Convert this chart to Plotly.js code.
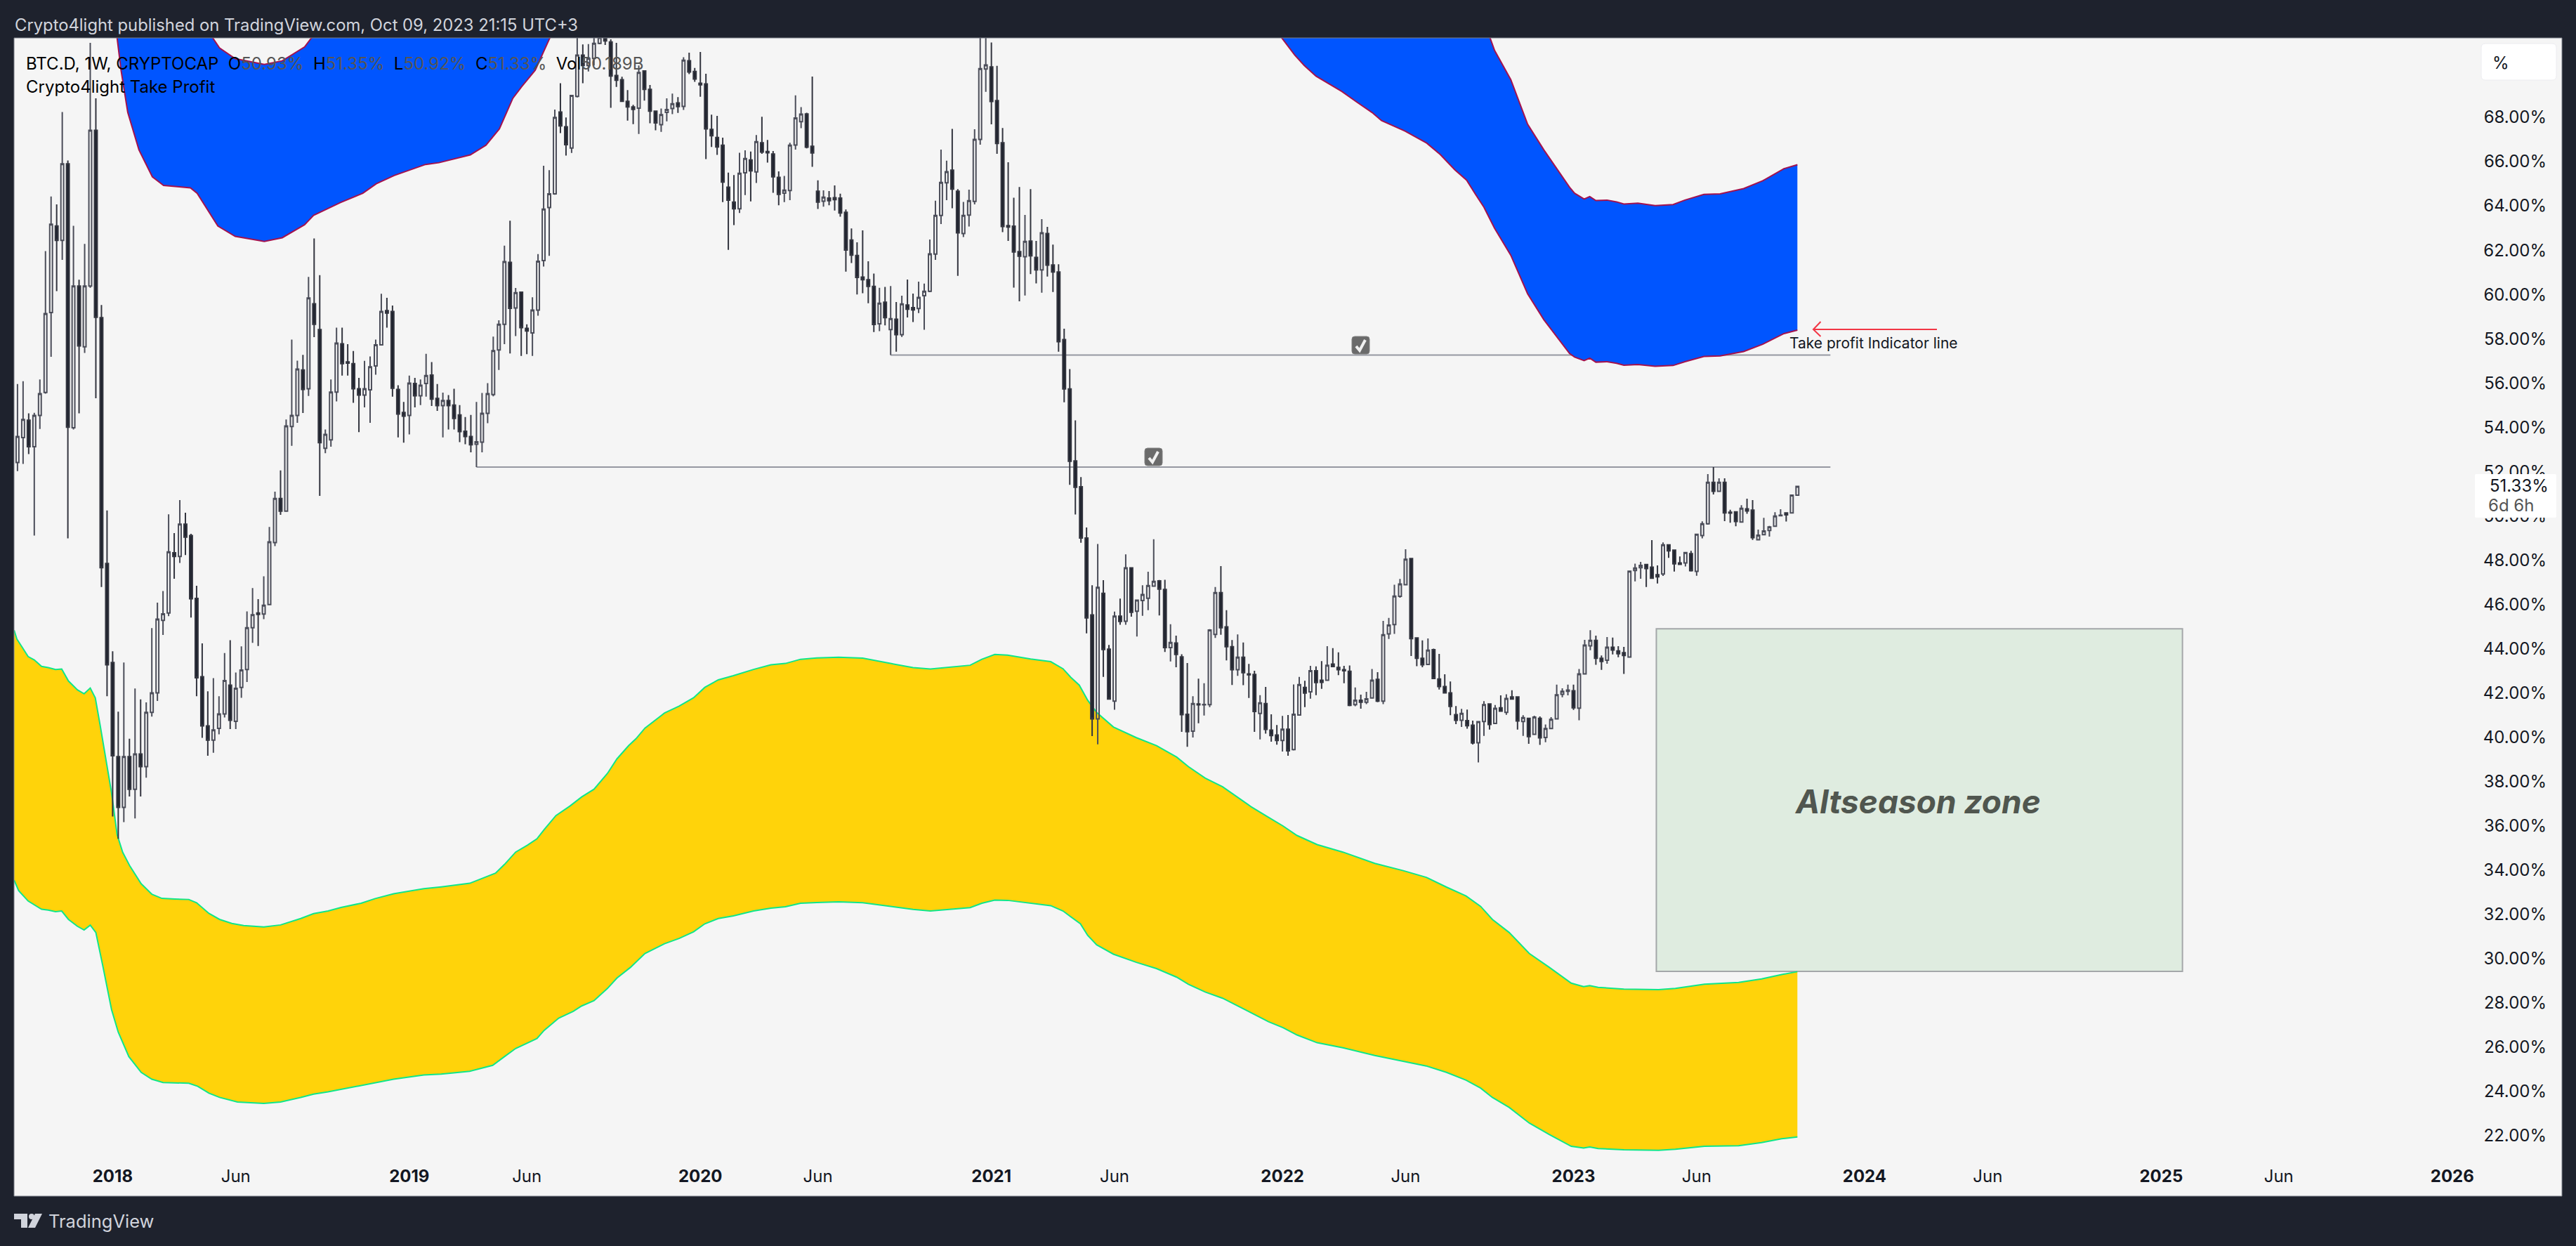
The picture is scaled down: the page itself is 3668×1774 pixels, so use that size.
<!DOCTYPE html>
<html>
<head>
<meta charset="utf-8">
<script src="https://cdn.plot.ly/plotly-3.0.1.min.js"></script>
<style>html,body{margin:0;padding:0;background:#1e222d;}#chart{width:3668px;height:1774px;}</style>
</head>
<body>
<div id="chart"></div>
<script>
// Weekly BTC.D candles, Mon 2017-09-04 .. Mon 2023-10-09, ten per group
const opens = [
52.41,53.53,54.32,53.12,54.53,55.57,59.18,63.09,62.44,65.90,
53.98,60.38,57.63,60.38,67.41,58.95,47.85,43.37,39.12,36.83,
39.12,37.65,39.24,38.67,41.12,42.00,45.28,45.61,48.33,48.16,
49.62,49.11,46.27,42.73,40.51,39.87,40.40,41.05,42.35,40.72,
42.25,43.06,44.94,45.61,45.56,45.99,48.79,50.78,50.21,54.03,
54.53,56.59,55.74,59.58,58.41,53.05,53.43,55.59,57.77,56.95,
56.87,55.74,55.45,55.69,56.77,57.72,59.27,59.23,55.71,54.67,
54.53,55.98,55.42,55.98,56.36,55.30,54.98,55.21,55.00,54.56,
53.82,53.58,53.23,53.33,54.63,55.48,57.49,58.65,61.45,59.39,
60.10,58.47,58.26,59.29,61.53,63.92,64.54,68.24,67.57,66.61,
68.94,70.81,70.34,70.66,71.34,71.58,71.40,69.89,69.70,68.72,
68.47,68.41,70.09,69.26,68.28,67.67,68.22,68.40,68.65,68.49,
70.55,70.07,69.54,69.51,67.45,67.09,66.74,64.84,64.17,63.87,
65.49,66.07,65.53,66.85,66.45,66.34,65.29,64.57,64.69,66.75,
67.80,68.15,66.69,64.66,64.21,64.35,64.37,64.35,63.71,62.46,
61.76,60.78,60.66,60.36,58.67,59.65,58.41,58.88,58.18,59.52,
59.40,59.36,59.94,60.14,61.82,63.57,65.04,65.61,64.66,62.75,
63.58,64.20,67.00,70.18,70.28,68.75,66.85,63.11,63.08,61.93,
61.70,62.41,61.67,61.11,62.75,61.33,61.01,57.96,55.73,52.48,
51.31,49.00,45.52,40.83,46.50,43.98,41.63,45.47,45.24,47.65,
45.69,46.17,46.28,46.82,47.06,46.67,44.05,44.25,43.63,41.03,
40.27,41.50,41.46,41.47,44.64,46.53,44.98,44.09,43.05,43.61,
42.86,42.83,41.07,41.52,40.32,40.10,39.85,40.36,39.44,41.00,
42.25,42.05,43.00,42.57,42.57,43.30,43.15,43.05,42.98,41.47,
41.67,41.58,41.77,42.61,41.63,44.67,45.09,46.36,46.89,48.07,
44.48,43.56,43.29,43.95,42.63,42.29,42.00,41.02,40.76,40.75,
40.54,39.75,40.71,41.50,40.62,41.33,41.12,41.82,41.82,40.71,
40.85,40.13,40.85,39.99,40.39,40.83,41.94,42.07,42.10,41.31,
42.86,44.13,44.37,43.56,43.48,44.06,43.90,43.82,43.62,47.53,
47.66,47.80,47.68,47.34,47.37,48.69,48.45,47.87,47.87,48.29,
47.49,49.11,49.64,51.51,51.11,51.51,50.16,50.18,49.72,50.31,
50.26,48.92,49.15,49.34,49.53,50.00,50.13,50.13,50.93];
const highs = [
55.95,56.08,54.63,54.65,56.16,61.96,64.42,64.07,68.24,66.05,
63.10,60.66,62.28,71.36,68.86,59.52,50.24,43.88,41.15,43.37,
39.93,42.20,41.71,41.57,44.93,46.08,46.60,50.07,49.22,50.71,
50.14,49.19,46.84,44.24,42.07,42.67,41.85,43.80,44.38,42.92,
44.10,45.68,46.74,46.24,47.27,49.50,51.09,52.05,54.35,57.96,
57.01,57.27,60.79,62.53,60.87,53.90,56.16,58.50,58.50,57.75,
57.44,56.23,57.00,57.20,57.96,60.03,59.85,59.50,55.90,55.14,
56.33,56.23,56.16,57.32,56.94,55.95,55.56,55.45,55.74,55.00,
54.46,54.56,55.14,55.55,55.99,58.09,58.83,62.20,63.33,60.29,
60.13,58.65,59.87,61.82,65.81,65.61,68.35,69.54,67.99,69.00,
72.20,71.29,71.31,72.00,72.00,72.00,71.52,71.36,69.83,69.23,
68.56,70.34,70.10,69.46,68.31,68.40,68.86,69.07,68.91,70.71,
70.92,70.23,70.95,69.97,68.12,68.06,67.08,65.50,65.39,66.40,
66.51,66.45,67.20,68.02,66.98,66.48,65.56,65.35,66.85,68.99,
68.46,68.21,69.84,65.15,64.70,64.67,64.92,64.55,63.84,62.98,
62.35,62.89,61.50,60.94,60.30,60.34,60.38,59.66,59.94,60.67,
60.04,60.58,60.49,62.48,64.23,66.54,66.04,67.48,64.76,64.18,
64.73,67.46,72.20,72.30,71.38,70.32,67.52,65.97,64.37,64.85,
63.59,64.76,62.42,63.40,63.05,62.25,61.36,58.45,56.63,54.31,
51.75,49.47,46.86,48.73,47.09,44.17,45.67,46.26,48.26,47.67,
46.21,46.86,47.47,48.94,47.10,47.11,45.10,44.59,43.75,43.35,
41.85,42.64,42.44,44.88,46.78,47.73,45.74,44.39,44.64,44.28,
43.31,43.00,41.90,42.27,41.03,40.55,40.96,41.00,42.38,42.72,
42.55,43.22,43.20,43.44,44.11,44.02,43.83,43.22,43.24,42.25,
41.92,42.05,43.08,42.94,45.25,45.39,46.89,47.15,48.49,48.08,
44.50,44.37,44.46,44.00,43.76,42.84,42.52,41.41,41.28,41.25,
40.75,40.72,41.63,41.52,41.45,41.89,41.94,42.12,41.85,40.99,
40.87,40.97,40.94,40.57,40.91,42.37,42.21,42.37,42.37,43.08,
44.40,44.83,44.59,43.69,44.52,44.50,44.11,44.08,47.52,47.84,
47.92,47.82,48.90,47.76,48.80,48.71,48.47,48.16,48.36,48.42,
49.18,49.75,51.88,52.20,51.69,51.69,50.27,50.20,50.48,50.77,
50.71,49.38,49.91,49.54,50.16,50.30,50.16,50.95,51.35];
const lows = [
52.02,52.34,52.79,49.11,53.92,55.52,57.18,60.15,61.56,48.98,
53.90,54.63,57.36,60.30,55.31,46.78,41.85,36.42,35.41,36.16,
37.32,36.33,37.32,38.17,40.93,41.64,44.62,45.47,47.16,47.87,
48.23,45.40,41.85,39.97,39.16,39.30,40.13,40.89,40.37,40.37,
41.78,42.49,44.26,44.12,45.33,45.96,48.63,50.04,50.20,53.16,
54.20,54.64,55.41,58.07,50.90,52.83,53.12,55.17,56.33,56.33,
55.10,53.78,54.90,54.20,56.37,57.70,58.50,55.38,53.54,53.30,
53.68,54.90,55.00,55.38,54.96,54.74,53.54,53.90,53.90,53.33,
53.23,52.87,52.20,52.87,54.18,55.40,56.59,57.75,57.33,58.12,
57.22,57.30,57.22,59.04,61.26,61.74,64.50,67.29,66.27,66.39,
68.90,69.54,70.07,70.34,71.30,71.27,68.43,69.37,68.70,67.85,
67.69,67.25,68.75,67.73,67.41,67.34,67.82,68.14,68.20,68.33,
69.95,69.60,68.93,66.11,66.66,66.30,64.17,62.01,63.13,63.68,
64.49,64.20,65.03,66.35,65.95,64.59,64.03,64.17,64.26,66.54,
67.51,66.60,65.76,63.86,63.96,64.03,63.79,63.51,61.03,61.42,
60.00,60.05,59.60,58.30,58.34,58.60,57.26,57.41,58.08,58.96,
58.75,59.16,58.40,60.10,61.56,63.18,64.26,63.89,60.84,62.59,
63.07,64.07,66.76,69.15,67.68,66.35,62.81,62.42,60.31,59.69,
59.95,60.92,60.50,60.08,60.81,60.11,57.41,55.13,51.40,50.06,
48.78,44.69,40.05,39.68,42.72,41.70,41.24,45.08,45.08,45.44,
44.55,45.48,45.74,46.80,45.50,43.85,43.42,43.16,40.24,39.57,
39.99,40.63,40.98,41.36,44.48,44.63,43.47,42.36,42.77,42.35,
41.77,40.24,39.90,40.16,39.80,39.66,39.35,39.16,39.40,40.97,
41.36,41.74,41.90,42.18,42.55,43.16,42.80,42.44,41.40,41.40,
41.29,41.49,41.75,41.58,41.49,44.44,44.67,46.30,46.87,43.67,
43.21,43.16,43.27,42.63,42.15,41.97,40.99,40.59,40.46,40.38,
39.67,38.86,40.06,40.34,40.60,41.17,41.01,41.70,40.34,40.06,
39.70,40.12,39.65,39.77,40.36,40.82,41.80,41.89,41.23,40.76,
42.84,43.93,43.27,43.04,43.32,43.74,43.61,42.86,43.60,47.04,
47.16,46.78,47.16,46.94,47.28,48.10,47.48,47.80,47.71,47.48,
47.29,48.98,49.60,50.96,51.10,49.76,49.69,49.53,49.70,50.09,
48.91,48.89,49.14,49.06,49.51,50.00,49.74,50.12,50.92];
const closes = [
53.58,54.35,53.12,54.53,55.52,59.13,63.17,62.44,65.90,54.00,
60.38,57.67,60.38,67.41,58.97,47.66,43.27,39.16,36.83,39.12,
37.65,39.24,38.67,41.12,42.00,45.33,45.57,48.37,48.16,49.62,
49.04,46.25,42.68,40.51,39.87,40.33,41.05,42.56,40.76,42.21,
43.03,44.94,45.53,45.55,45.96,48.82,50.78,50.21,54.06,54.53,
56.63,55.71,59.84,58.65,53.30,53.68,55.59,57.80,56.87,56.90,
55.74,55.45,55.74,56.73,57.72,59.23,59.16,55.76,54.60,54.50,
55.99,55.42,55.90,56.33,55.27,54.98,55.21,54.98,54.40,53.80,
53.58,53.21,53.34,54.63,55.52,57.46,58.65,61.48,59.37,60.08,
58.50,58.35,59.29,61.50,63.85,64.54,67.99,67.61,66.76,68.98,
70.81,70.34,70.66,71.34,71.60,71.45,69.86,69.67,68.72,68.47,
68.36,70.02,69.26,68.28,67.75,68.12,68.35,68.61,68.48,70.58,
70.05,69.73,69.47,67.48,67.17,66.66,65.07,64.26,63.87,65.47,
66.14,65.58,66.90,66.43,66.40,65.31,64.52,64.71,66.74,67.97,
68.14,66.65,66.39,64.17,64.39,64.23,64.28,63.68,62.00,61.77,
60.77,60.66,60.36,58.64,59.60,58.95,58.90,58.18,59.57,59.33,
59.30,59.86,60.14,61.83,63.57,65.06,65.54,64.76,62.78,63.57,
64.23,67.00,70.20,70.36,68.71,66.82,63.07,63.04,61.92,61.73,
62.39,61.74,61.11,62.78,61.32,61.01,57.86,55.73,52.46,51.29,
49.00,45.39,40.83,46.77,43.96,41.72,45.47,45.23,47.65,45.64,
46.19,46.44,46.85,47.04,46.69,44.05,44.28,43.74,41.02,40.25,
41.52,41.46,41.48,44.84,46.53,44.94,44.09,43.05,43.61,42.91,
42.82,41.16,41.55,40.35,40.07,39.85,40.36,39.38,41.03,42.37,
41.99,43.00,42.47,42.48,43.25,43.19,43.05,43.00,41.44,41.67,
41.58,41.73,42.57,41.63,44.63,45.06,46.37,46.92,48.04,44.45,
43.56,43.27,43.93,42.65,42.29,42.00,41.39,40.76,41.07,40.52,
39.74,40.70,41.47,40.57,41.30,41.18,41.75,41.72,40.73,40.88,
40.03,40.91,39.97,40.39,40.80,41.91,42.07,42.13,41.33,42.86,
44.16,44.37,43.56,43.42,44.06,43.94,43.77,43.69,47.50,47.64,
47.76,47.62,47.18,47.24,48.69,48.42,47.83,47.81,48.34,47.52,
49.16,49.64,51.51,51.11,51.51,50.13,50.12,49.74,50.34,50.22,
49.01,49.12,49.31,49.50,49.99,50.03,50.04,50.93,51.33];

// Bands: week number counted from the first candle, and percent
const yellowUpperWeek = [-0.6,-0.1,0.9,1.9,3,4.3,5.5,6.8,7.9,9.1,10.7,11.9,13,13.9,14.8,15.8,16.8,17.8,18.8,20.1,22.1,24,25.8,28.1,30.6,32,34.2,36.1,38.3,40.4,44,47,50.6,52.9,55.5,57.8,61.4,63.9,67.2,72.6,75.7,80.8,85.4,87,89,91.1,92.8,94.1,96.2,98.7,100.8,103,105.4,107.1,109.2,110.5,112.1,115.6,118.2,120.8,122.8,125.2,127.9,131.5,134.6,137.2,139.9,142.8,146.7,151,156.1,160,163.1,167.2,170.2,172.3,174.6,176.9,181,184.6,186.8,188.2,189.7,191.2,192.8,195.8,199.9,203.5,207.1,209.2,212.2,215.3,220.4,223.5,226.1,228.6,232.2,236.8,242.5,247.6,251.7,255.3,258.8,261.4,263.5,266.5,270.1,273.7,277.6,279.8,280.9,282.4,287,293.2,296.2,301.4,307.5,311.6,315.2,318];
const yellowUpperPct = [44.83,44.43,44.04,43.64,43.49,43.2,43.14,43.06,43.08,42.54,42.14,41.96,42.22,41.78,40.49,38.99,37.49,35.6,34.8,34.17,33.38,32.91,32.72,32.69,32.67,32.52,32.04,31.77,31.59,31.49,31.43,31.52,31.81,32.03,32.15,32.31,32.5,32.71,32.93,33.16,33.24,33.4,33.86,34.25,34.81,35.12,35.41,35.83,36.46,36.89,37.3,37.65,38.36,39.02,39.62,39.93,40.41,41.09,41.4,41.78,42.25,42.59,42.78,43.06,43.27,43.33,43.52,43.58,43.61,43.57,43.33,43.14,43.08,43.19,43.25,43.52,43.74,43.71,43.53,43.41,43.09,42.7,42.35,41.67,41.12,40.46,39.98,39.62,39.1,38.67,38.15,37.76,36.86,36.38,35.99,35.56,35.15,34.81,34.3,33.97,33.67,33.23,32.83,32.36,31.77,31.18,30.23,29.6,28.89,28.73,28.78,28.7,28.62,28.6,28.65,28.84,28.92,29.08,29.28,29.41];
const yellowLowerWeek = [-0.6,0.2,1.9,4.3,5.5,6.8,7.9,9.1,10.7,11.9,13,14,15.3,16.8,18,19.9,22.1,24,26,28.1,30.6,32.2,34.2,36.1,39.3,44,47,50.6,52.9,55.5,57.8,61.4,63.9,67.2,72.6,75.7,80.8,84.9,87,89,92.8,94.1,96.7,99.3,100.8,103,105.4,107.1,109.5,112.1,115.6,118.2,120.8,122.8,125.2,127.9,131.5,134.6,137.2,139.9,142.8,146.7,151,156.1,160,163.1,167.2,170.2,172.3,174.6,176.9,181,184.6,186.8,188.2,189.9,191.2,192.8,195.8,199.9,203.5,207.1,209.2,212.2,215.3,220.4,223.5,226.1,228.6,232.2,236.8,242.5,247.6,251.7,255.3,258.8,261.4,263.5,266.5,270.1,273.7,277.6,279.8,280.9,282.4,287,293.2,296.2,301.4,307.5,311.6,315.2,318];
const yellowLowerPct = [33.54,33.07,32.6,32.23,32.19,32.12,32.15,31.77,31.46,31.29,31.51,31.18,29.6,27.7,26.68,25.57,24.86,24.55,24.4,24.39,24.37,24.23,23.92,23.73,23.52,23.46,23.52,23.73,23.88,23.98,24.09,24.25,24.39,24.55,24.74,24.78,24.91,25.18,25.57,25.94,26.39,26.76,27.31,27.62,27.86,28.1,28.65,29.12,29.6,30.23,30.67,30.91,31.21,31.57,31.81,31.93,32.15,32.28,32.34,32.5,32.53,32.56,32.52,32.36,32.22,32.15,32.25,32.3,32.5,32.64,32.63,32.49,32.39,32.15,31.89,31.57,31.05,30.62,30.2,29.83,29.55,29.16,28.84,28.49,28.21,27.55,27.15,26.88,26.55,26.2,25.97,25.62,25.37,25.15,24.86,24.51,24.15,23.73,23.28,22.57,22.05,21.52,21.44,21.49,21.42,21.36,21.34,21.39,21.52,21.55,21.69,21.86,21.94];
const blueLowerWeek = [-0.6,10,15,16.8,17.8,18.5,19.7,21.7,24.1,26.1,28.9,30.9,32.1,33.9,35.8,38.9,44.1,47.3,51.3,52.9,57.7,61.7,64.1,67.3,72.9,75.3,80.9,83.7,86.1,88.5,90.1,92.5,95.1,100,110,120,140,160,176,190,205,215,225.9,228.2,229.9,232,236.6,239.5,242,243.7,247.9,251.7,254.2,256.8,258.9,260.5,262,263.9,266.8,269.8,272.7,277.3,278.2,279.9,280.9,282,284,285.7,287,289.5,292.6,295.8,297.9,301.3,304.2,308.4,311.8,315.6,318];
const blueLowerPct = [88,84,79,74,71.58,70.13,68.22,66.53,65.31,64.92,64.86,64.81,64.57,63.83,63.09,62.62,62.39,62.56,63.15,63.57,64.15,64.57,65,65.37,65.87,65.95,66.3,66.74,67.48,68.86,69.39,70.13,71.58,74.6,80,83.5,87,86,87.4,84,78,75,71.58,70.81,70.34,69.86,69.17,68.65,68.22,67.85,67.38,66.85,66.32,65.63,65.16,64.52,63.94,62.99,61.77,60.03,58.86,57.33,57.17,57.01,57.12,56.94,56.96,56.89,56.8,56.83,56.75,56.79,56.96,57.2,57.22,57.42,57.75,58.23,58.39];
const blueUpperWeek = [-0.6,10,20,25,30,33,34.9,36.1,38.9,44.1,47.3,51.3,52.5,60,80,100,120,170,200,215,240,255,263.1,263.9,266.8,269.8,272.7,277.3,278.2,279.9,280.9,282,284,285.7,287,289.5,292.6,295.8,297.9,301.3,304.2,308.4,311.8,315.6,318];
const blueUpperPct = [100,94.4,76.7,73.4,72.9,72.2,71.58,71.13,70.65,70.39,70.55,71.18,71.58,72.5,75,84,94,98,90,85,78,74,71.58,71.02,69.7,67.69,66.53,64.84,64.57,64.31,64.42,64.24,64.26,64.18,64.08,64.12,64.01,64.06,64.26,64.52,64.54,64.78,65.13,65.68,65.86];

// Axes
const yTicks = [68,66,64,62,60,58,56,54,52,50,48,46,44,42,40,38,36,34,32,30,28,26,24,22];
const xTickDates = ['2018-01-01','2018-06-04','2019-01-07','2019-06-03','2020-01-06','2020-06-01','2021-01-04','2021-06-07','2022-01-03','2022-06-06','2023-01-02','2023-06-05','2024-01-01','2024-06-03','2025-01-06','2025-06-02','2026-01-05'];
const xTickLabels = ['<b>2018</b>','Jun','<b>2019</b>','Jun','<b>2020</b>','Jun','<b>2021</b>','Jun','<b>2022</b>','Jun','<b>2023</b>','Jun','<b>2024</b>','Jun','<b>2025</b>','Jun','<b>2026</b>'];

const FONT = 'Inter, "Liberation Sans", sans-serif';
const DARK = '#1e222d', PANEL = '#f5f5f5';
const W0 = Date.UTC(2017, 8, 4);
const dateOf = k => new Date(W0 + k * 7 * 864e5).toISOString().slice(0, 19).replace('T', ' ');
const dates = opens.map((_, k) => dateOf(k));

// Page furniture helpers: page pixels to plot fractions
const PL = 20, PR = 3648, PT = 54, PB = 1703;
const fx = px => (px - PL) / (PR - PL);
const fy = py => 1 - (py - PT) / (PB - PT);
const P = (px, py) => fx(px) + ',' + fy(py);
const rrect = (x0, y0, x1, y1, r) =>
  'M' + P(x0 + r, y0) + ' L' + P(x1 - r, y0) + ' Q' + P(x1, y0) + ' ' + P(x1, y0 + r) +
  ' L' + P(x1, y1 - r) + ' Q' + P(x1, y1) + ' ' + P(x1 - r, y1) +
  ' L' + P(x0 + r, y1) + ' Q' + P(x0, y1) + ' ' + P(x0, y1 - r) +
  ' L' + P(x0, y0 + r) + ' Q' + P(x0, y0) + ' ' + P(x0 + r, y0) + ' Z';
const pShape = (path, fill, lineColor, lineW, layer) => ({
  type: 'path', xref: 'paper', yref: 'paper', path, layer: layer || 'above',
  fillcolor: fill, line: { color: lineColor, width: lineW }
});
const checkIcon = (x0, y0, x1, y1) => [
  pShape(rrect(x0, y0, x1, y1, 4), '#6a6a6a', '#808080', 1),
  pShape('M' + P(x0 + 6, y0 + 14) + ' L' + P(x0 + 11, y1 - 5) + ' L' + P(x1 - 6, y0 + 5),
    'rgba(0,0,0,0)', '#f0f0f0', 4)
];
const text = (px, py, t, size, color, anchor, extra) => Object.assign({
  xref: 'paper', yref: 'paper', x: fx(px), y: fy(py), text: t, showarrow: false,
  xanchor: anchor || 'left', yanchor: 'middle', align: 'left',
  font: { family: FONT, size, color }
}, extra || {});

const polygon = (wk1, v1, wk2, v2, color) => ({
  type: 'scatter', mode: 'lines', hoverinfo: 'skip', showlegend: false,
  x: wk1.map(dateOf).concat(wk2.slice().reverse().map(dateOf)),
  y: v1.concat(v2.slice().reverse()),
  fill: 'toself', fillcolor: color, line: { width: 0, color: color }
});
const edge = (wk, v, color) => ({
  type: 'scatter', mode: 'lines', hoverinfo: 'skip', showlegend: false,
  x: wk.map(dateOf), y: v, line: { color, width: 2 }
});

const BLUE = '#0055ff', CRIMSON = '#a3124e', YELLOW = '#ffd30a', GREEN = '#0fe68a';
const traces = [
  polygon(yellowUpperWeek, yellowUpperPct, yellowLowerWeek, yellowLowerPct, YELLOW),
  edge(yellowUpperWeek, yellowUpperPct, GREEN),
  edge(yellowLowerWeek, yellowLowerPct, GREEN),
  polygon(blueLowerWeek, blueLowerPct, blueUpperWeek, blueUpperPct, BLUE),
  edge(blueLowerWeek, blueLowerPct, CRIMSON),
  edge(blueUpperWeek, blueUpperPct, CRIMSON),
  {
    type: 'candlestick', x: dates, open: opens, high: highs, low: lows, close: closes,
    xaxis: 'x', yaxis: 'y2', showlegend: false, hoverinfo: 'skip', whiskerwidth: 0,
    increasing: { line: { color: '#4b4d59', width: 2 }, fillcolor: 'rgba(0,0,0,0)' },
    decreasing: { line: { color: '#33353f', width: 2 }, fillcolor: '#1e222d' }
  }
];

const yRange = [19.27, 71.585];
const layout = {
  width: 3668, height: 1774, autosize: false,
  paper_bgcolor: DARK, plot_bgcolor: PANEL,
  margin: { l: PL, r: 3668 - PR, t: PT, b: 1774 - PB, pad: 0 },
  showlegend: false,
  xaxis: {
    type: 'date', range: [dateOf(-0.615), dateOf(454.6)],
    tickmode: 'array', tickvals: xTickDates, ticktext: xTickLabels,
    ticklabelposition: 'inside', ticklabelstandoff: 12, ticks: '', showgrid: false, zeroline: false,
    showline: false, rangeslider: { visible: false },
    tickfont: { family: FONT, size: 24, color: '#131722' }
  },
  yaxis: {
    range: yRange, side: 'right', tickmode: 'array',
    tickvals: yTicks, ticktext: yTicks.map(v => v.toFixed(2) + '%'),
    ticklabelposition: 'inside', ticklabelstandoff: 19, ticks: '', showgrid: false, zeroline: false,
    showline: false,
    tickfont: { family: FONT, size: 24, color: '#131722' }
  },
  yaxis2: { range: yRange, overlaying: 'y', side: 'right', visible: false, showgrid: false, zeroline: false },
  shapes: [
    { type: 'rect', xref: 'x', yref: 'y', x0: dateOf(292.8), x1: dateOf(386.8), y0: 29.42, y1: 44.9,
      layer: 'below', fillcolor: '#dfece0', line: { color: '#a4a7a9', width: 2 } },
    { type: 'line', xref: 'x', yref: 'y', x0: dateOf(82), x1: dateOf(323.9), y0: 52.2, y1: 52.2,
      layer: 'below', line: { color: '#9598a1', width: 2 } },
    { type: 'line', xref: 'x', yref: 'y', x0: dateOf(156), x1: dateOf(323.9), y0: 57.26, y1: 57.26,
      layer: 'below', line: { color: '#9598a1', width: 2 } },
    ...checkIcon(1630, 638, 1655, 663),
    ...checkIcon(1925, 479, 1950, 504),
    pShape('M' + P(2758, 469) + ' L' + P(2582, 469) + ' M' + P(2592.5, 458) + ' L' + P(2582, 469) + ' L' + P(2592.5, 479),
      'rgba(0,0,0,0)', '#f23645', 2),
    pShape(rrect(3533, 62, 3640, 114, 6), '#ffffff', '#ececf0', 1),
    pShape(rrect(3524, 675, 3640, 737, 2), '#ffffff', '#ffffff', 0),
    { type: 'rect', xref: 'paper', yref: 'paper', x0: 0, x1: 1, y0: 0, y1: 1, layer: 'above',
      fillcolor: 'rgba(0,0,0,0)', line: { color: '#7d808a', width: 1 } },
    pShape('M' + P(20, 1728) + ' L' + P(39, 1728) + ' L' + P(39, 1748) + ' L' + P(30, 1748) + ' L' + P(30, 1736) + ' L' + P(20, 1736) + ' Z', '#d1d4dc', '#d1d4dc', 0),
    pShape('M' + P(41, 1732) + ' Q' + P(41, 1728) + ' ' + P(45, 1728) + ' Q' + P(49, 1728) + ' ' + P(49, 1732) + ' Q' + P(49, 1736) + ' ' + P(45, 1736) + ' Q' + P(41, 1736) + ' ' + P(41, 1732) + ' Z', '#d1d4dc', '#d1d4dc', 0),
    pShape('M' + P(50, 1728) + ' L' + P(60, 1728) + ' L' + P(50, 1748) + ' L' + P(40, 1748) + ' Z', '#d1d4dc', '#d1d4dc', 0)
  ],
  annotations: [
    text(19, 35, 'Crypto4light published on TradingView.com, Oct 09, 2023 21:15 UTC+3', 23.8, '#d1d4dc'),
    text(35, 90, 'BTC.D, 1W, CRYPTOCAP  O<span style="color:#555555">50.93%</span>  H<span style="color:#555555">51.35%</span>  L<span style="color:#555555">50.92%</span>  C<span style="color:#555555">51.33%</span>  Vol<span style="color:#555555">50.189B</span>', 24, '#000000'),
    text(35, 124, 'Crypto4light Take Profit', 24, '#000000'),
    text(3561, 89, '%', 24, '#131722', 'center'),
    text(3631, 692, '51.33%', 24, '#131722', 'right'),
    text(3541, 719, '6d 6h', 24, '#555555', 'left'),
    text(2731, 1141, '<b><i>Altseason zone</i></b>', 46, '#50564f', 'center'),
    text(2546, 489, 'Take profit Indicator line', 21, '#131722'),
    text(67, 1739, 'TradingView', 25.5, '#d1d4dc')
  ]
};
Plotly.newPlot('chart', traces, layout, { displayModeBar: false, staticPlot: true });
</script>
</body>
</html>
